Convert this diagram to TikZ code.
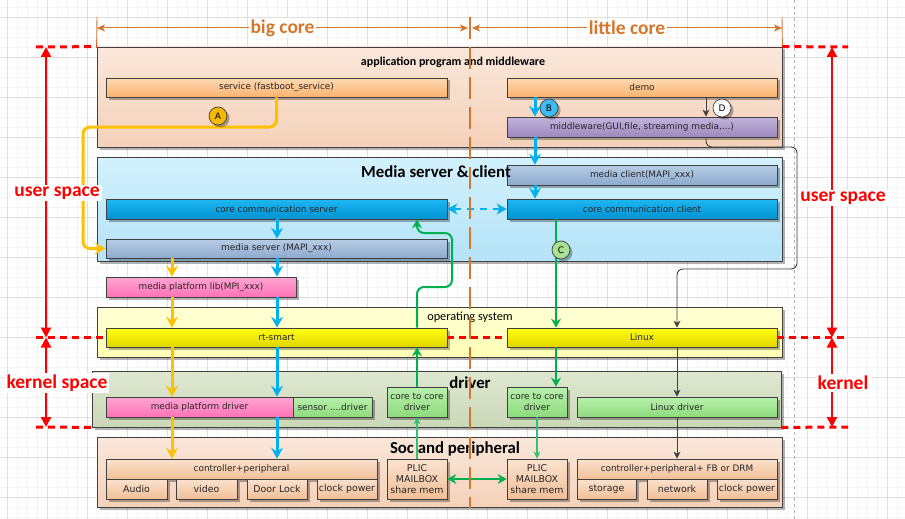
\documentclass[tikz,border=0pt]{standalone}
\usepackage{fontspec}
\setmainfont{DejaVu Sans}
\newfontfamily\calfont{Carlito}
\usetikzlibrary{arrows.meta,shadows}

\definecolor{orng}{RGB}{213,118,45}
\definecolor{boxline}{RGB}{64,64,64}
\definecolor{gridmaj}{RGB}{224,224,224}
\definecolor{gridmin}{RGB}{244,244,244}
\definecolor{appTop}{HTML}{FAE7DA}\definecolor{appBot}{HTML}{F4D1B9}
\definecolor{medTop}{HTML}{D2F1FD}\definecolor{medBot}{HTML}{B5E3F8}
\definecolor{osTop}{HTML}{FFFFD6}\definecolor{osBot}{HTML}{FFFFB5}
\definecolor{drvTop}{HTML}{DEE7D0}\definecolor{drvBot}{HTML}{CBD8B8}
\definecolor{svcTop}{HTML}{FDD9B3}\definecolor{svcBot}{HTML}{FBB36F}
\definecolor{mwTop}{HTML}{C2B4DA}\definecolor{mwBot}{HTML}{9C89BE}
\definecolor{gbTop}{HTML}{B7CDE4}\definecolor{gbBot}{HTML}{8DAACE}
\definecolor{blTop}{HTML}{1DB8F2}\definecolor{blBot}{HTML}{0092D2}
\definecolor{pkTop}{HTML}{FFA6D2}\definecolor{pkBot}{HTML}{FF72B6}
\definecolor{ylTop}{HTML}{FFFF10}\definecolor{ylBot}{HTML}{E2D400}
\definecolor{grTop}{HTML}{B8F0AC}\definecolor{grBot}{HTML}{8EDB7D}
\definecolor{pcTop}{HTML}{FBE2CE}\definecolor{pcBot}{HTML}{F1BF96}
\definecolor{blueA}{HTML}{00B0F0}
\definecolor{yelA}{HTML}{FFC000}
\definecolor{grnA}{HTML}{00B050}
\definecolor{darkA}{HTML}{404040}
\definecolor{cA}{HTML}{F5B800}
\definecolor{cB}{HTML}{3CBDF5}
\definecolor{cC}{HTML}{A6E293}
\definecolor{cD}{HTML}{FFFFFF}

\newcommand\mkbox[7]{\node[#6, minimum width={(#4-#2)*1pt}, minimum height={(#5-#3)*1pt}] (#1) at ({(#2+#4)/2},{(#3+#5)/2}) {#7};}

\tikzset{
  shad/.style={drop shadow={shadow xshift=2.5pt,shadow yshift=-2.5pt,fill=black,opacity=0.3}},
  bx/.style={draw=boxline, line width=0.7pt, inner sep=0pt, align=center,
    font=\fontsize{8.9}{10.5}\selectfont, text=black!85, shad},
  sub/.style={bx, font=\fontsize{9.4}{11}\selectfont},
  layer/.style={draw=boxline, line width=0.8pt, inner sep=0pt, shad},
  appfill/.style={top color=appTop,bottom color=appBot},
  medfill/.style={top color=medTop,bottom color=medBot},
  osfill/.style={top color=osTop,bottom color=osBot},
  drvfill/.style={top color=drvTop,bottom color=drvBot},
  orfill/.style={top color=svcTop,bottom color=svcBot},
  mwfill/.style={top color=mwTop,bottom color=mwBot},
  gbfill/.style={top color=gbTop,bottom color=gbBot},
  blfill/.style={top color=blTop,bottom color=blBot},
  pkfill/.style={top color=pkTop,bottom color=pkBot},
  ylfill/.style={top color=ylTop,bottom color=ylBot},
  grfill/.style={top color=grTop,bottom color=grBot},
  pcfill/.style={top color=pcTop,bottom color=pcBot},
  ttlS/.style={font=\calfont\bfseries\fontsize{12}{14}\selectfont, inner sep=0pt},
  ttlN/.style={font=\calfont\fontsize{12.3}{14}\selectfont, inner sep=0pt},
  ttlL/.style={font=\calfont\bfseries\fontsize{16.8}{18}\selectfont, inner sep=0pt},
  badge/.style={circle, draw=boxline, line width=0.7pt, minimum size=18pt, inner sep=0pt,
    font=\fontsize{9}{10}\selectfont, shad},
  barr/.style={blueA, line width=3pt, -{Stealth[length=11pt,width=12pt,inset=4pt]}},
  bdash/.style={blueA, line width=2.5pt, dash pattern=on 7pt off 6pt,
    {Stealth[length=10pt,width=11pt,inset=3pt]}-{Stealth[length=10pt,width=11pt,inset=3pt]}},
  yarr/.style={yelA, line width=3pt, -{Stealth[length=11pt,width=12pt,inset=4pt]}},
  garr/.style={grnA, line width=2pt, -{Stealth[length=9pt,width=10pt,inset=3pt]}},
  gdbl/.style={grnA, line width=2pt, {Stealth[length=9pt,width=10pt,inset=3pt]}-{Stealth[length=9pt,width=10pt,inset=3pt]}},
  gthin/.style={grnA!80!white, line width=1.1pt, -{Stealth[length=7pt,width=7pt,inset=2pt]}},
  darr/.style={darkA, line width=0.9pt, -{Stealth[length=7pt,width=7pt,inset=2pt]}},
  dimarr/.style={orng, line width=1pt, {Stealth[length=8pt,width=7pt,inset=2pt]}-{Stealth[length=8pt,width=7pt,inset=2pt]}},
  dimlab/.style={fill=white, text=orng, inner sep=1.5pt, font=\calfont\bfseries\fontsize{19.5}{20}\selectfont},
  reddash/.style={red, line width=3pt, dash pattern=on 7pt off 5pt},
  redarr/.style={red, line width=2.2pt, {Triangle[length=10pt,width=10pt]}-{Triangle[length=10pt,width=10pt]}},
  sidelab/.style={fill=white, text=red, inner sep=2pt, font=\calfont\bfseries\fontsize{19.5}{20}\selectfont},
}

\begin{document}
\begin{tikzpicture}[x=1pt,y=-1pt]
\useasboundingbox (0,0) rectangle (905,519);
\fill[white] (0,0) rectangle (905,519);
% grid
\foreach \x in {-3,7,...,905} \draw[gridmin, line width=0.6pt] (\x,0) -- (\x,519);
\foreach \y in {7,17,...,519} \draw[gridmin, line width=0.6pt] (0,\y) -- (905,\y);
\foreach \x in {7,47,...,905} \draw[gridmaj, line width=0.8pt] (\x,0) -- (\x,519);
\foreach \y in {17,57,...,519} \draw[gridmaj, line width=0.8pt] (0,\y) -- (905,\y);
\draw[gray!60, line width=0.6pt, dash pattern=on 3pt off 3pt] (794,0) -- (794,519);

% layers
\mkbox{app}{97}{47}{782}{147}{layer, appfill}{}
\mkbox{med}{97}{157}{782}{261}{layer, medfill}{}
\mkbox{os}{97}{307}{782}{357}{layer, osfill}{}
\mkbox{drv}{92}{371}{781}{427}{layer, drvfill}{}
\mkbox{soc}{97}{437}{782}{507}{layer, appfill}{}

% inner boxes
\mkbox{svc}{106}{78}{447}{97}{bx, orfill}{service (fastboot\_service)}
\mkbox{demo}{507}{78}{777}{97}{bx, orfill}{demo}
\mkbox{mw}{507}{117}{777}{137}{bx, mwfill}{middleware(GUI,file, streaming media,...)}
\mkbox{mcl}{507}{165}{777}{185}{bx, gbfill}{media client(MAPI\_xxx)}
\mkbox{ccs}{106}{199}{447}{219}{bx, blfill}{core communication server}
\mkbox{ccc}{507}{199}{777}{219}{bx, blfill}{core communication client}
\mkbox{msrv}{106}{239}{447}{258}{bx, gbfill}{media server (MAPI\_xxx)}
\mkbox{mpl}{106}{277}{296}{297}{bx, pkfill}{media platform lib(MPI\_xxx)}
\mkbox{rts}{106}{328}{447}{347}{bx, ylfill}{rt-smart}
\mkbox{linux}{507}{328}{777}{347}{bx, ylfill}{Linux}
\mkbox{mpd}{106}{397}{293}{417}{bx, pkfill}{media platform driver}
\mkbox{sens}{293}{397}{372}{417}{bx, grfill}{sensor ....driver}
\mkbox{c2cL}{387}{387}{447}{417}{bx, grfill}{core to core\\driver}
\mkbox{c2cR}{507}{387}{567}{417}{bx, grfill}{core to core\\driver}
\mkbox{ldrv}{577}{397}{777}{417}{bx, grfill}{Linux driver}
\mkbox{ctlL}{106}{459}{377}{479}{bx, pcfill}{controller+peripheral}
\mkbox{audio}{106}{479}{167}{499}{sub, pcfill}{Audio}
\mkbox{video}{176}{479}{237}{499}{sub, pcfill}{video}
\mkbox{door}{247}{479}{307}{499}{sub, pcfill}{Door Lock}
\mkbox{clkL}{317}{479}{377}{499}{sub, pcfill}{clock power}
\mkbox{plicL}{387}{459}{447}{499}{sub, pcfill}{PLIC\\MAILBOX\\share mem}
\mkbox{plicR}{507}{459}{567}{499}{sub, pcfill}{PLIC\\MAILBOX\\share mem}
\mkbox{ctlR}{577}{459}{777}{479}{bx, pcfill}{controller+peripheral+ FB or DRM}
\mkbox{stor}{577}{479}{636}{499}{sub, pcfill}{storage}
\mkbox{net}{647}{479}{707}{499}{sub, pcfill}{network}
\mkbox{clkR}{717}{479}{777}{499}{sub, pcfill}{clock power}

% titles
\node[ttlS] (tapp) at (453,62) {application program and middleware};
\node[ttlL] (tmed) at (436,172) {Media server \& client};
\node[ttlN] (tos) at (470,317) {operating system};
\node[ttlL] (tdrv) at (470,383) {driver};
\node[ttlL] (tsoc) at (455,449) {Soc and peripheral};

% helper coordinates
\coordinate (yx) at (172,0);
\coordinate (bxx) at (277,0);
\coordinate (bxr) at (535,0);
\coordinate (gx) at (556,0);
\coordinate (dxx) at (706,0);

% yellow path A
\draw[yarr, rounded corners=7pt] (svc.south) -- (svc.south |- 0,127) -- (83,127) -- (83,248.5) -- (msrv.west);
\draw[yarr] (msrv.south -| yx) -- (mpl.north -| yx);
\draw[yarr] (mpl.south -| yx) -- (rts.north -| yx);
\draw[yarr] (rts.south -| yx) -- (mpd.north -| yx);
\draw[yarr] (mpd.south -| yx) -- (ctlL.north -| yx);

% blue
\draw[barr] (ccs.south -| bxx) -- (msrv.north -| bxx);
\draw[barr] (msrv.south -| bxx) -- (mpl.north -| bxx);
\draw[barr] (mpl.south -| bxx) -- (rts.north -| bxx);
\draw[barr] (rts.south -| bxx) -- (mpd.north -| bxx);
\draw[barr] (mpd.south -| bxx) -- (ctlL.north -| bxx);
\draw[barr] (demo.south -| bxr) -- (mw.north -| bxr);
\draw[barr] (mw.south -| bxr) -- (mcl.north -| bxr);
\draw[barr] (mcl.south -| bxr) -- (ccc.north -| bxr);
\draw[bdash] (ccs.east) -- (ccc.west);

% green
\draw[garr] (ccc.south -| gx) -- (linux.north -| gx);
\draw[garr] (linux.south -| gx) -- (c2cR.north -| gx);
\draw[gthin] (c2cR.south) -- (plicR.north);
\draw[gthin] (plicL.north) -- (c2cL.south);
\draw[garr] (c2cL.north) -- (c2cL.north |- rts.south);
\draw[garr, rounded corners=7pt] (c2cL.north |- rts.north) -- (417,287) -- (452,287) -- (452,233) -- (417,233) -- (c2cL.north |- ccs.south);
\draw[gdbl] (plicL.east) -- (plicR.west);

% dark grey
\draw[darr] (demo.south -| dxx) -- (mw.north -| dxx);
\draw[darr, rounded corners=6pt] (mw.south -| dxx) -- (706,147) -- (797,147) -- (797,269) -- (677,269) -- (ldrv.north |- linux.north);
\draw[darr] (linux.south -| ldrv.north) -- (ldrv.north);
\draw[darr] (ldrv.south) -- (ctlR.north);

% badges
\node[badge, fill=cA] (bA) at (218,116) {A};
\node[badge, fill=cB] (bB) at (549,108) {B};
\node[badge, fill=cC] (bC) at (561,250) {C};
\node[badge, fill=cD] (bD) at (722,108) {D};

% orange core markers
\coordinate (oL) at (97,17);
\coordinate (oR) at (782,17);
\coordinate (oM) at (470,17);
\coordinate (oMb) at (470,508);
\coordinate (bcL) at (97,28);
\coordinate (bcR) at (468,28);
\coordinate (lcL) at (472,28);
\coordinate (lcR) at (782,28);
\draw[orng, line width=0.9pt] (oL) -- (app.north west);
\draw[orng, line width=0.9pt] (oR) -- (app.north east);
\draw[orng, line width=1.8pt, dash pattern=on 22pt off 8pt] (oM) -- (oMb);
\draw[dimarr] (bcL) -- (bcR) node[dimlab, midway] (lbc) {big core};
\draw[dimarr] (lcL) -- (lcR) node[dimlab, midway] (llc) {little core};

% red boundaries
\coordinate (r1a) at (36,47);
\coordinate (r1b) at (848,47);
\coordinate (r2a) at (36,337.5);
\coordinate (r2b) at (848,337.5);
\coordinate (r3a) at (36,427);
\coordinate (r3b) at (848,427);
\draw[reddash] (r1a) -- (app.north west);
\draw[reddash] (app.north east) -- (r1b);
\draw[reddash] (r2a) -- (rts.west);
\draw[reddash] (rts.east) -- (linux.west);
\draw[reddash] (linux.east) -- (r2b);
\draw[reddash] (r3a) -- (drv.south west);
\draw[reddash] (drv.south east) -- (r3b);

\coordinate (la1) at (46,47);
\coordinate (la2) at (46,337.5);
\coordinate (la3) at (46,427);
\coordinate (ra1) at (832,47);
\coordinate (ra2) at (832,337.5);
\coordinate (ra3) at (832,427);
\draw[redarr] (la1) -- (la2);
\draw[redarr] (la2) -- (la3);
\draw[redarr] (ra1) -- (ra2);
\draw[redarr] (ra2) -- (ra3);

\node[sidelab] (lus) at (57,193) {user space};
\node[sidelab] (lks) at (57,383) {kernel space};
\node[sidelab] (rus) at (843,198) {user space};
\node[sidelab] (rks) at (843,383) {kernel};
\end{tikzpicture}
\end{document}
